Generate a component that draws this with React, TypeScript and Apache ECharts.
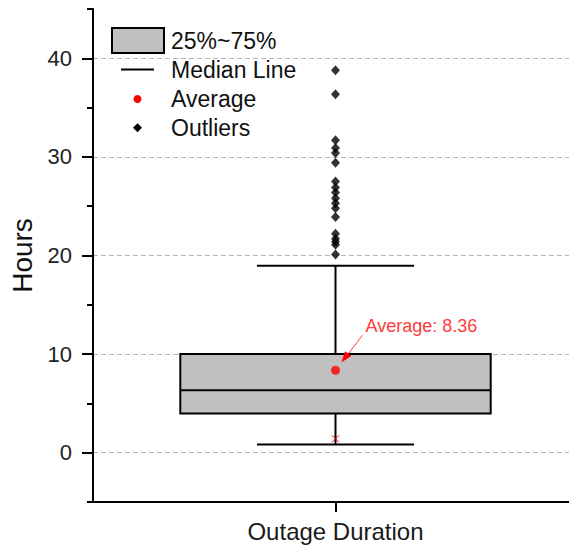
import React, { useEffect, useRef } from 'react';
import * as echarts from 'echarts';

const FONT = '"Liberation Sans", Arial, Helvetica, sans-serif';

const categories = ['Outage Duration'];
// lower whisker, Q1, median, Q3, upper whisker
const boxStats = [0.84, 3.97, 6.33, 10.0, 18.97];
const meanValue = [8.36];
const lowPercentile = [1.41];
const outliers = [
  38.8, 36.35, 31.7, 30.9, 30.4, 29.4, 27.5, 26.9, 26.4, 25.8, 25.3, 24.8, 23.9,
  22.2, 21.7, 21.4, 21.1, 20.1,
];
const majorTicks = [0, 10, 20, 30, 40];
const legendLabels = ['25%~75%', 'Median Line', 'Average', 'Outliers'];

const BOX_FILL = '#c0c0c0';
const INK = '#000000';
const RED = '#ff0000';

function legendGraphics() {
  const textStyle = (text: string, y: number) => ({
    type: 'text',
    style: {
      text,
      x: 171,
      y,
      fill: '#111',
      fontSize: 23,
      fontFamily: FONT,
      verticalAlign: 'middle',
      align: 'left',
    },
  });
  return [
    {
      type: 'rect',
      shape: { x: 112, y: 28, width: 52, height: 25 },
      style: { fill: BOX_FILL, stroke: INK, lineWidth: 2 },
    },
    textStyle(legendLabels[0], 41),
    {
      type: 'line',
      shape: { x1: 121, y1: 69.5, x2: 154, y2: 69.5 },
      style: { stroke: INK, lineWidth: 2 },
    },
    textStyle(legendLabels[1], 70),
    {
      type: 'circle',
      shape: { cx: 137.5, cy: 99, r: 4 },
      style: { fill: RED },
    },
    textStyle(legendLabels[2], 99),
    {
      type: 'polygon',
      shape: {
        points: [
          [137.5, 123.3],
          [142, 127.8],
          [137.5, 132.3],
          [133, 127.8],
        ],
      },
      style: { fill: INK },
    },
    textStyle(legendLabels[3], 128),
  ];
}

export default function App() {
  const ref = useRef<HTMLDivElement>(null);

  useEffect(() => {
    if (!ref.current) return;
    const chart = echarts.init(ref.current, undefined, { renderer: 'svg' });

    const option: any = {
      animation: false,
      backgroundColor: '#ffffff',
      grid: {
        left: 93,
        top: 9,
        width: 485,
        height: 493,
        containLabel: false,
        outerBoundsMode: 'none',
      },
      xAxis: {
        type: 'category',
        data: categories,
        boundaryGap: true,
        axisLine: { show: true, onZero: false, lineStyle: { color: INK, width: 2 } },
        axisTick: { show: true, alignWithLabel: true, length: 10, lineStyle: { color: INK, width: 2 } },
        axisLabel: { fontSize: 24, margin: 17, color: '#1a1a1a', fontFamily: FONT },
        splitLine: { show: false },
      },
      yAxis: [
        {
          type: 'value',
          min: -5,
          max: 45,
          position: 'left',
          name: 'Hours',
          nameLocation: 'middle',
          nameGap: 55,
          nameTextStyle: { fontSize: 28, color: '#111', fontFamily: FONT },
          axisLine: { show: true, lineStyle: { color: INK, width: 2 } },
          axisTick: {
            show: true,
            length: 11,
            customValues: majorTicks,
            lineStyle: { color: INK, width: 2 },
          },
          axisLabel: {
            customValues: majorTicks,
            fontSize: 22,
            margin: 21,
            color: '#222',
            fontFamily: FONT,
          },
          splitLine: {
            show: true,
            lineStyle: { color: '#b4b4b4', width: 1, type: [5, 3] },
          },
        },
        {
          type: 'value',
          min: -5,
          max: 45,
          interval: 5,
          position: 'left',
          axisLine: { show: false },
          axisTick: { show: true, length: 6, lineStyle: { color: INK, width: 2 } },
          axisLabel: { show: false },
          splitLine: { show: false },
        },
      ],
      graphic: legendGraphics(),
      series: [
        {
          name: 'Box',
          type: 'custom',
          yAxisIndex: 0,
          z: 2,
          data: [[0, ...boxStats]],
          encode: { x: 0, y: [1, 2, 3, 4, 5] },
          renderItem: (params: any, api: any) => {
            const xv = api.value(0);
            const lo = api.coord([xv, api.value(1)]);
            const q1 = api.coord([xv, api.value(2)]);
            const med = api.coord([xv, api.value(3)]);
            const q3 = api.coord([xv, api.value(4)]);
            const hi = api.coord([xv, api.value(5)]);
            const band = api.size([1, 0])[0];
            const half = band * 0.32;
            const capHalf = band * 0.162;
            const cx = lo[0];
            const ls = { stroke: INK, lineWidth: 2, fill: null };
            return {
              type: 'group',
              children: [
                { type: 'line', shape: { x1: cx, y1: hi[1], x2: cx, y2: q3[1] }, style: ls },
                { type: 'line', shape: { x1: cx, y1: q1[1], x2: cx, y2: lo[1] }, style: ls },
                { type: 'line', shape: { x1: cx - capHalf, y1: hi[1], x2: cx + capHalf, y2: hi[1] }, style: ls },
                { type: 'line', shape: { x1: cx - capHalf, y1: lo[1], x2: cx + capHalf, y2: lo[1] }, style: ls },
                {
                  type: 'rect',
                  shape: { x: cx - half, y: q3[1], width: half * 2, height: q1[1] - q3[1] },
                  style: { fill: BOX_FILL, stroke: INK, lineWidth: 2 },
                },
                { type: 'line', shape: { x1: cx - half, y1: med[1], x2: cx + half, y2: med[1] }, style: ls },
              ],
            };
          },
        },
        {
          name: 'Percentile',
          type: 'custom',
          yAxisIndex: 0,
          z: 3,
          data: lowPercentile.map((v) => [0, v]),
          renderItem: (params: any, api: any) => {
            const p = api.coord([api.value(0), api.value(1)]);
            const s = 3.5;
            const st = { stroke: RED, lineWidth: 1 };
            return {
              type: 'group',
              children: [
                { type: 'line', shape: { x1: p[0] - s, y1: p[1] - s, x2: p[0] + s, y2: p[1] + s }, style: st },
                { type: 'line', shape: { x1: p[0] - s, y1: p[1] + s, x2: p[0] + s, y2: p[1] - s }, style: st },
              ],
            };
          },
        },
        {
          name: 'Outliers',
          type: 'scatter',
          yAxisIndex: 0,
          z: 4,
          symbol: 'diamond',
          symbolSize: [9, 10],
          itemStyle: { color: INK },
          data: outliers.map((v) => [0, v]),
        },
        {
          name: 'Average',
          type: 'scatter',
          yAxisIndex: 0,
          z: 5,
          symbol: 'circle',
          symbolSize: 9,
          itemStyle: { color: RED },
          data: meanValue.map((v) => [0, v]),
        },
        {
          name: 'AverageNote',
          type: 'custom',
          yAxisIndex: 0,
          z: 6,
          data: meanValue.map((v) => [0, v]),
          renderItem: (params: any, api: any) => {
            const mean = api.value(1);
            const p = api.coord([api.value(0), mean]);
            const [x, y] = p;
            return {
              type: 'group',
              children: [
                {
                  type: 'line',
                  shape: { x1: x + 27, y1: y - 35, x2: x + 11, y2: y - 14 },
                  style: { stroke: '#ff4040', lineWidth: 1 },
                },
                {
                  type: 'polygon',
                  shape: {
                    points: [
                      [x + 6, y - 8],
                      [x + 15.9, y - 14.3],
                      [x + 9.5, y - 19.1],
                    ],
                  },
                  style: { fill: RED },
                },
                {
                  type: 'text',
                  style: {
                    text: 'Average: ' + mean.toFixed(2),
                    x: x + 30,
                    y: y - 44,
                    fill: '#ff3b3b',
                    fontSize: 18,
                    fontFamily: FONT,
                    align: 'left',
                    verticalAlign: 'middle',
                  },
                },
              ],
            };
          },
        },
      ],
    };

    chart.setOption(option);
    return () => chart.dispose();
  }, []);

  return (
    <div
      ref={ref}
      style={{ position: 'absolute', left: 0, top: 0, width: 569, height: 548, background: '#fff' }}
    />
  );
}
